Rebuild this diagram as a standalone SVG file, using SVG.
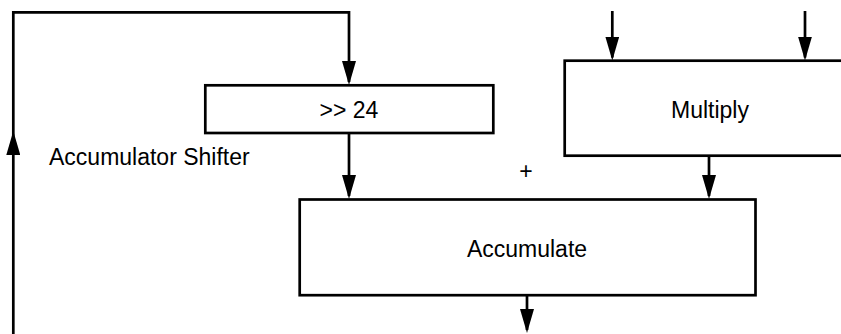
<svg xmlns="http://www.w3.org/2000/svg" width="841" height="334" viewBox="0 0 841 334">
  <style>
    .box { fill: #ffffff; stroke: #000000; stroke-width: 2.7; }
    .wire { fill: none; stroke: #000000; stroke-width: 2.7; }
    .lbl { font-family: "Liberation Sans", Arial, sans-serif; font-size: 23px; fill: #000000; }
  </style>
  <defs>
    <marker id="arrow" markerUnits="userSpaceOnUse" viewBox="0 0 24 14" markerWidth="24" markerHeight="14" refX="21" refY="7" orient="auto">
      <path d="M0,0 L24,7 L0,14 Z" fill="#000000"/>
    </marker>
  </defs>
  <rect width="841" height="334" fill="#ffffff"/>

  <g id="shifter">
    <rect class="box" x="205.3" y="85.3" width="288" height="47.7"/>
    <text class="lbl" x="349" y="117.7" text-anchor="middle">&gt;&gt; 24</text>
  </g>
  <g id="multiply">
    <rect class="box" x="564.7" y="60.7" width="300" height="95"/>
    <text class="lbl" x="710" y="117.7" text-anchor="middle">Multiply</text>
  </g>
  <g id="accumulate">
    <rect class="box" x="299.7" y="199.5" width="455.8" height="95.7"/>
    <text class="lbl" x="527" y="256.7" text-anchor="middle">Accumulate</text>
  </g>
  <g id="labels">
    <text class="lbl" x="49" y="165">Accumulator Shifter</text>
    <text class="lbl" x="526" y="179.4" text-anchor="middle">+</text>
  </g>

  <g id="connectors">
    <path class="wire" d="M13.3,336 L13.3,134" marker-end="url(#arrow)"/>
    <path class="wire" d="M13.3,134 L13.3,12.3 L349,12.3 L349,82" stroke-linejoin="miter" marker-end="url(#arrow)"/>
    <path class="wire" d="M349,133 L349,196" marker-end="url(#arrow)"/>
    <path class="wire" d="M612.3,11 L612.3,57.5" marker-end="url(#arrow)"/>
    <path class="wire" d="M805,11 L805,57.5" marker-end="url(#arrow)"/>
    <path class="wire" d="M709,156 L709,196" marker-end="url(#arrow)"/>
    <path class="wire" d="M527,295 L527,330" marker-end="url(#arrow)"/>
  </g>
</svg>
